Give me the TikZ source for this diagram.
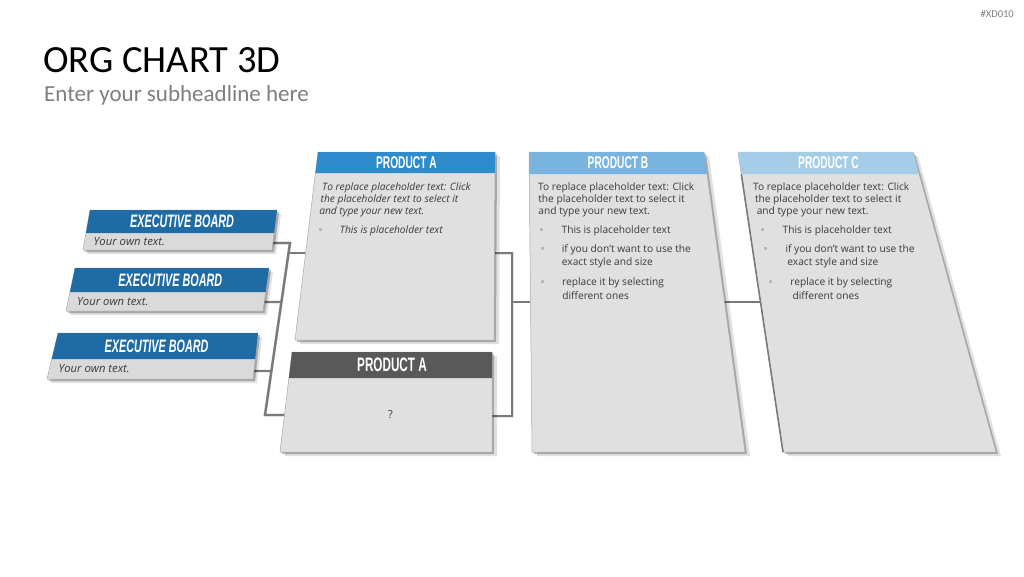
\documentclass[tikz,border=0pt]{standalone}
\usepackage{fontspec}
\setmainfont{Open Sans}
\newfontfamily\titlefont{Carlito}
\newfontfamily\headfont[FakeStretch=0.6]{Liberation Sans}
\usetikzlibrary{calc}
\definecolor{execblue}{HTML}{1F6BA5}
\definecolor{prodablue}{HTML}{2E8BCC}
\definecolor{prodbblue}{HTML}{78B4DE}
\definecolor{prodcblue}{HTML}{A6CDE8}
\definecolor{proddark}{HTML}{595959}
\definecolor{cardgray}{HTML}{E0E0E0}
\definecolor{boardgray}{HTML}{DADADA}
\definecolor{edgegray}{HTML}{A8A8A8}
\definecolor{linkgray}{HTML}{7A7A7A}
\definecolor{textgray}{HTML}{3A3A3A}
\definecolor{subgray}{HTML}{7F7F7F}
\tikzset{
  cardbody/.style={fill=cardgray, draw=edgegray, line width=0.5pt, line join=round},
  boardbody/.style={fill=boardgray, draw=edgegray, line width=0.5pt, line join=round},
  softshadow/.style={fill=black, opacity=0.12},
  hardshadow/.style={fill=black, opacity=0.25},
  sideedge/.style={draw=linkgray, line width=1.6pt},
  link/.style={draw=linkgray, line width=2.4pt, line join=miter},
  linkshadow/.style={draw=black, opacity=0.1, line width=3pt},
  bullet/.style={fill=gray!55},
  bodytext/.style={anchor=base west, inner sep=0pt, text=textgray},
  headtext/.style={inner sep=0pt, text=white},
}
% lines of the product cards: number/baseline/kind/text
\def\alines{1/190/0/To replace placeholder text: Click,
  2/202/0/the placeholder text to select it,
  3/214/0/and type your new text.,
  4/233/1/This is placeholder text}
\def\bodylines{1/190/0/To replace placeholder text: Click,
  2/202/0/the placeholder text to select it,
  3/214/0/and type your new text.,
  4/233/1/This is placeholder text,
  5/252/1/if you don't want to use the,
  6/265/2/exact style and size,
  7/285/1/replace it by selecting,
  8/299/2/different ones}
\newcommand\cardtext[5]{%
  \foreach \n/\y/\k/\t in #4 {
    \pgfmathsetmacro\xm{#2+#3*(\y-190)}
    \ifnum\k=1 \fill[bullet] ({\xm+2},{\y-5.5}) rectangle ++(3,3); \fi
    \pgfmathsetmacro\xt{\xm+(\k>0)*23}
    \node[bodytext, font=#5] (#1-l\n) at (\xt,\y) {\t};
  }}

\begin{document}
\begin{tikzpicture}[x=1pt, y=-1pt]
    \fill[white] (0,0) rectangle (1024,576);
    \useasboundingbox (0,0) rectangle (1024,576);

    % headline
    \node[anchor=base west, inner sep=0pt] (title) at (43,72)
        {\titlefont\fontsize{38.5}{40}\selectfont ORG CHART 3D};
    \node[anchor=base west, inner sep=0pt, text=subgray] (subtitle) at (44,101)
        {\titlefont\fontsize{23}{26}\selectfont Enter your subheadline here};
    \node[anchor=base east, inner sep=0pt, text=subgray] (tag) at (1014,17)
        {\titlefont\fontsize{10.5}{12}\selectfont \#XD010};

    % connectors
    \coordinate (e1-out) at (273,243);
    \coordinate (e2-out) at (263,302);
    \coordinate (e3-out) at (253,371);
    \coordinate (busT) at (290,243);
    \coordinate (busB) at (265,415);
    \coordinate (busM) at (288.5,253);
    \coordinate (pa-in) at (306,253);
    \coordinate (pd-in) at (286,415);
    \coordinate (pa-out) at (495,253);
    \coordinate (pd-out) at (492,416);
    \coordinate (rbT) at (512,253);
    \coordinate (rbB) at (512,416);
    \coordinate (rbM) at (512,302);
    \coordinate (pb-in) at (530,302);
    \coordinate (pb-out) at (724,302);
    \coordinate (pc-in) at (761,302);

    \begin{scope}[shift={(3,4)}]
      \draw[linkshadow] (e1-out) -- (busT) -- (busB) -- (pd-in);
      \draw[linkshadow] (pa-out) -- (rbT) -- (rbB) -- (pd-out);
    \end{scope}
    \draw[link] (e1-out) -- (busT) -- (busB) -- (pd-in);
    \draw[link] (busM) -- (pa-in);
    \draw[link] (e2-out) -- ($(busT)!0.343!(busB)$);
    \draw[link] (e3-out) -- ($(busT)!0.744!(busB)$);
    \draw[link] (pa-out) -- (rbT) -- (rbB) -- (pd-out);
    \draw[link] (rbM) -- (pb-in);
    \draw[link] (pb-out) -- (pc-in);

    % executive boards
    \foreach \i/\tlx/\trx/\brx/\blx/\yt/\yh/\yb in
        {1/90/277/272/83/210/233/250, 2/75/269/263/66/268/292/311, 3/58/258/253/47/333/359/379}{
      \pgfmathsetmacro\f{(\yh-\yt)/(\yb-\yt)}
      \coordinate (e\i-tl) at (\tlx,\yt);
      \coordinate (e\i-tr) at (\trx,\yt);
      \coordinate (e\i-br) at (\brx,\yb);
      \coordinate (e\i-bl) at (\blx,\yb);
      \coordinate (e\i-hl) at ($(e\i-tl)!\f!(e\i-bl)$);
      \coordinate (e\i-hr) at ($(e\i-tr)!\f!(e\i-br)$);
      \fill[softshadow] ({\tlx+4},{\yt+4}) -- ({\trx+4},{\yt+4}) -- ({\brx+4},{\yb+4}) -- ({\blx+4},{\yb+4}) -- cycle;
      \fill[hardshadow] ({\tlx+2},{\yt+2}) -- ({\trx+2},{\yt+2}) -- ({\brx+2},{\yb+2}) -- ({\blx+2},{\yb+2}) -- cycle;
      \path[boardbody] (e\i-tl) -- (e\i-tr) -- (e\i-br) -- (e\i-bl) -- cycle;
      \fill[execblue] (e\i-tl) -- (e\i-tr) -- (e\i-hr) -- (e\i-hl) -- cycle;
      \node[headtext] (eb\i) at ($(e\i-tl)!0.5!(e\i-hr)$)
          {\headfont\bfseries\itshape\fontsize{18}{19}\selectfont EXECUTIVE BOARD};
      \node[bodytext, anchor=west, xshift=9pt] (et\i) at ($(e\i-hl)!0.5!(e\i-bl)$)
          {\itshape\fontsize{11.3}{13}\selectfont Your own text.};
    }

    % product cards
    \foreach \nm/\tlx/\trx/\brx/\blx/\yt/\yh/\yb/\col in
        {pa/318/495/494/295/152/173/340/prodablue, pd/292/492/492/280/352/378/452/proddark,
         pb/529/704/745/532/152/174/452/prodbblue, pc/738/913/996/783/152/174/452/prodcblue}{
      \pgfmathsetmacro\f{(\yh-\yt)/(\yb-\yt)}
      \coordinate (\nm-tl) at (\tlx,\yt);
      \coordinate (\nm-tr) at (\trx,\yt);
      \coordinate (\nm-br) at (\brx,\yb);
      \coordinate (\nm-bl) at (\blx,\yb);
      \coordinate (\nm-hl) at ($(\nm-tl)!\f!(\nm-bl)$);
      \coordinate (\nm-hr) at ($(\nm-tr)!\f!(\nm-br)$);
      \fill[softshadow] ({\tlx+5},{\yt+4}) -- ({\trx+5},{\yt+4}) -- ({\brx+5},{\yb+4}) -- ({\blx+5},{\yb+4}) -- cycle;
      \fill[hardshadow] ({\tlx+2},{\yt+2}) -- ({\trx+2},{\yt+2}) -- ({\brx+2},{\yb+2}) -- ({\blx+2},{\yb+2}) -- cycle;
      \path[cardbody] (\nm-tl) -- (\nm-tr) -- (\nm-br) -- (\nm-bl) -- cycle;
      \fill[\col] (\nm-tl) -- (\nm-tr) -- (\nm-hr) -- (\nm-hl) -- cycle;
    }
    \draw[sideedge] (pc-hl) -- (pc-bl);

    \node[headtext] (pa-head) at ($(pa-tl)!0.5!(pa-hr)$)
        {\headfont\bfseries\fontsize{17}{18}\selectfont PRODUCT A};
    \node[headtext] (pb-head) at ($(pb-tl)!0.5!(pb-hr)$)
        {\headfont\bfseries\fontsize{17}{18}\selectfont PRODUCT B};
    \node[headtext] (pc-head) at ($(pc-tl)!0.5!(pc-hr)$)
        {\headfont\bfseries\fontsize{17}{18}\selectfont PRODUCT C};
    \node[headtext] (pd-head) at ($(pd-tl)!0.5!(pd-hr)$)
        {\headfont\bfseries\fontsize{19.5}{21}\selectfont PRODUCT A};
    \node[inner sep=0pt, text=textgray, font=\fontsize{11}{13}\selectfont] (pd-ask)
        at ($(pd-hl)!0.5!(pd-br)$) {?};

    \cardtext{pa}{322}{-0.122}{\alines}{\itshape\fontsize{10.2}{12}\selectfont}
    \cardtext{pb}{538}{0.01}{\bodylines}{\fontsize{10.2}{12}\selectfont}
    \cardtext{pc}{753}{0.15}{\bodylines}{\fontsize{10.2}{12}\selectfont}

\end{tikzpicture}
\end{document}
